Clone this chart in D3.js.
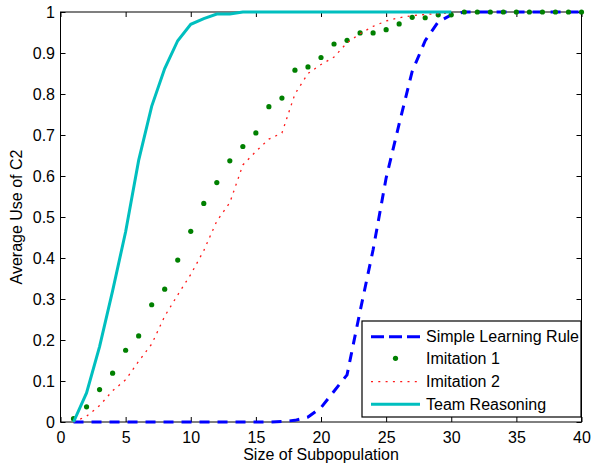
<!DOCTYPE html>
<html>
<head>
<meta charset="utf-8">
<script src="https://cdn.jsdelivr.net/npm/d3@7/dist/d3.min.js"></script>
<style>
body { margin: 0; background: #fff; }
text { font-family: "Liberation Sans", Arial, Helvetica, sans-serif; }
</style>
</head>
<body>
<div id="chart"></div>
<script>

// subpopulation sizes
var sizes = [1,2,3,4,5,6,7,8,9,10,11,12,13,14,15,16,17,18,19,20,
             21,22,23,24,25,26,27,28,29,30,31,32,33,34,35,36,37,38,39,40];

var simpleLearning = [0,0,0,0,0,0,0,0,0,0,0,0,0,0,0,0,0.001,0.004,0.012,0.035,
                      0.075,0.115,0.27,0.42,0.595,0.727,0.855,0.93,0.976,0.993,
                      1,1,1,1,1,1,1,1,1,1];

var imitation1 = [0.008,0.037,0.079,0.119,0.175,0.21,0.286,0.324,0.395,0.465,
                  0.533,0.584,0.637,0.672,0.705,0.769,0.79,0.858,0.866,0.889,
                  0.922,0.931,0.949,0.949,0.957,0.971,0.987,0.986,0.993,0.993,
                  1,1,1,1,1,1,1,1,1,1];

// these two only go up to 30
var imitation2 = [0,0.014,0.04,0.076,0.103,0.148,0.19,0.258,0.31,0.36,
                  0.418,0.49,0.535,0.627,0.66,0.69,0.705,0.8,0.85,0.872,
                  0.89,0.925,0.947,0.965,0.978,0.986,0.991,0.994,0.996,0.998];

var teamReasoning = [0,0.071,0.184,0.32,0.464,0.638,0.77,0.862,0.93,0.97,
                     0.984,0.995,0.995,1,1,1,1,1,1,1,
                     1,1,1,1,1,1,1,1,1,1];

var xTicks = [0,5,10,15,20,25,30,35,40];
var yTicks = [0,0.1,0.2,0.3,0.4,0.5,0.6,0.7,0.8,0.9,1];

var seriesNames = ["Simple Learning Rule","Imitation 1","Imitation 2","Team Reasoning"];

var g = {
	margin: {top: 12, right: 10.5, bottom: 46, left: 60.5},
	w: 592,
	h: 468
};
g.width = g.w - g.margin.left - g.margin.right;
g.height = g.h - g.margin.top - g.margin.bottom;

var svg = d3.select("#chart").append("svg")
	.attr("width", g.w)
	.attr("height", g.h)
	.append("g")
	.attr("transform", "translate(" + g.margin.left + "," + g.margin.top + ")");

var x = d3.scaleLinear().domain([0,40]).range([0, g.width]);
var y = d3.scaleLinear().domain([0,1]).range([g.height, 0]);

function fmt(d) { return d3.format("")(+d.toFixed(1)); }

// axes, ticks pointing inward like matlab
var xAxis = svg.append("g")
	.attr("transform", "translate(0," + g.height + ")")
	.call(d3.axisBottom(x).tickValues(xTicks).tickSizeInner(-5).tickSizeOuter(0).tickPadding(9.5));
var yAxis = svg.append("g")
	.call(d3.axisLeft(y).tickValues(yTicks).tickFormat(fmt).tickSizeInner(-5).tickSizeOuter(0).tickPadding(5.5));
svg.append("g")
	.call(d3.axisTop(x).tickValues(xTicks).tickFormat("").tickSizeInner(-5).tickSizeOuter(0));
svg.append("g")
	.attr("transform", "translate(" + g.width + ",0)")
	.call(d3.axisRight(y).tickValues(yTicks).tickFormat("").tickSizeInner(-5).tickSizeOuter(0));

svg.selectAll(".domain").remove();
svg.selectAll(".tick line").attr("stroke", "#000");
svg.selectAll(".tick text").attr("font-size", 16).attr("fill", "#000")
	.style("font-family", '"Liberation Sans", Arial, sans-serif');

svg.append("rect")
	.attr("width", g.width)
	.attr("height", g.height)
	.attr("fill", "none")
	.attr("stroke", "#000")
	.attr("stroke-width", 1);

// axis titles
svg.append("text")
	.attr("x", g.width/2)
	.attr("y", 448)
	.attr("text-anchor", "middle")
	.attr("font-size", 16)
	.text("Size of Subpopulation");

svg.append("text")
	.attr("transform", "translate(" + (22 - g.margin.left) + "," + (g.height/2) + ") rotate(-90)")
	.attr("text-anchor", "middle")
	.attr("font-size", 16)
	.text("Average Use of C2");

var line = d3.line()
	.x(function(d){ return x(d[0]); })
	.y(function(d){ return y(d[1]); });

function pairs(vals) {
	return vals.map(function(v,i){ return [sizes[i], v]; });
}

svg.append("path")
	.datum(pairs(simpleLearning))
	.attr("d", line)
	.attr("fill", "none")
	.attr("stroke", "#0000ff")
	.attr("stroke-width", 3)
	.attr("stroke-dasharray", "10,8");

svg.selectAll(".dot")
	.data(pairs(imitation1))
	.enter()
	.append("circle")
	.attr("class", "dot")
	.attr("cx", function(d){ return x(d[0]); })
	.attr("cy", function(d){ return y(d[1]); })
	.attr("r", 2.6)
	.attr("fill", "#008000");

svg.append("path")
	.datum(pairs(imitation2))
	.attr("d", line)
	.attr("fill", "none")
	.attr("stroke", "#ff1a1a")
	.attr("stroke-width", 1.3)
	.attr("stroke-dasharray", "2,5.3");

svg.append("path")
	.datum(pairs(teamReasoning))
	.attr("d", line)
	.attr("fill", "none")
	.attr("stroke", "#00bfbf")
	.attr("stroke-width", 3);

// legend
var lg = svg.append("g")
	.attr("transform", "translate(" + (362 - g.margin.left) + "," + (321 - g.margin.top) + ")");

lg.append("rect")
	.attr("width", 219)
	.attr("height", 96)
	.attr("fill", "#fff")
	.attr("stroke", "#000")
	.attr("stroke-width", 1.2);

var rowY = [15.7, 37.3, 60.7, 83.3];

lg.selectAll(".lgtext")
	.data(seriesNames)
	.enter()
	.append("text")
	.attr("class", "lgtext")
	.attr("x", 64)
	.attr("y", function(d,i){ return rowY[i]; })
	.attr("dy", "0.36em")
	.attr("font-size", 16)
	.text(function(d){ return d; });

lg.append("line")
	.attr("x1", 9).attr("x2", 58).attr("y1", rowY[0]).attr("y2", rowY[0])
	.attr("stroke", "#0000ff").attr("stroke-width", 3).attr("stroke-dasharray", "13,5");
lg.append("circle")
	.attr("cx", 33.5).attr("cy", rowY[1]).attr("r", 2.6).attr("fill", "#008000");
lg.append("line")
	.attr("x1", 9).attr("x2", 58).attr("y1", rowY[2]).attr("y2", rowY[2])
	.attr("stroke", "#ff1a1a").attr("stroke-width", 1.3).attr("stroke-dasharray", "2,5.3");
lg.append("line")
	.attr("x1", 9).attr("x2", 58).attr("y1", rowY[3]).attr("y2", rowY[3])
	.attr("stroke", "#00bfbf").attr("stroke-width", 3);

</script>
</body>
</html>
